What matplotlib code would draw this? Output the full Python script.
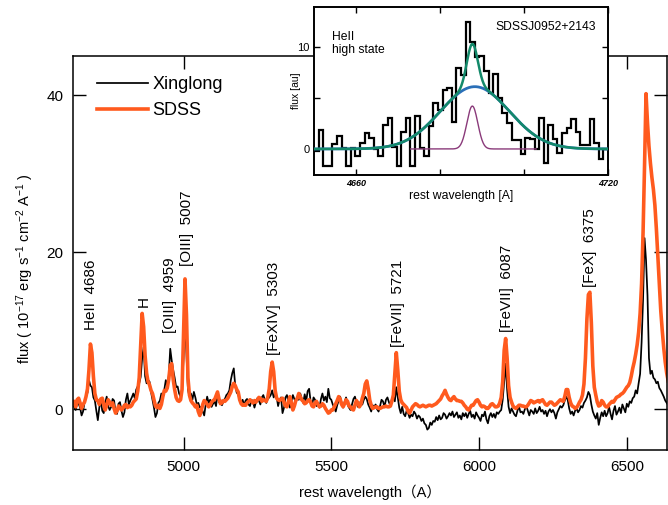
import numpy as np
import matplotlib
matplotlib.use("Agg")
import matplotlib.pyplot as plt

plt.rcParams['font.family'] = ['Liberation Sans', 'Noto Sans CJK SC', 'DejaVu Sans']
plt.rcParams['mathtext.fontset'] = 'custom'
plt.rcParams['mathtext.rm'] = 'Liberation Sans'
plt.rcParams['mathtext.default'] = 'rm'

# Main spectrum: rest wavelength grid (5 A step) and fluxes in 1e-17 erg/s/cm2/A
wavelength = np.arange(4625, 6641, 5)

xinglong_flux = [
    # 4625-4720
    1.1, 0.3, -0.1, 0.8, 0.7, 0.2, -0.8, -0.3, 0.9, 1.6, 2.1, 3.7, 3.0, 2.8, 1.5, 1.1, -0.2, -1.4, 0.2, 1.2,
    # 4725-4820
    -0.2, -0.5, 0.8, 1.6, 0.4, -0.1, 0.3, 1.3, 1.1, -0.4, -0.6, 0.7, 0.9, -0.2, -1.0, -0.4, 1.2, 2.0, 0.6, 1.1,
    # 4825-4920
    1.5, 2.0, 1.4, 2.5, 2.9, 3.3, 4.1, 6.5, 7.9, 4.2, 3.3, 3.7, 3.5, 2.2, 1.2, 0.2, -1.0, -0.5, 0.8, 1.1,
    # 4925-5020
    2.0, 1.4, 2.5, 3.7, 3.1, 4.2, 7.7, 6.2, 5.0, 4.0, 2.8, 2.9, 2.0, 1.6, 2.4, 6.5, 11.0, 7.0, 2.5, 1.6,
    # 5025-5120
    2.0, 1.2, 2.2, 1.5, 0.6, 0.8, 0.2, 0.3, -0.3, -0.8, 0.6, 1.6, 0.8, 1.2, 0.3, 0.7, 1.0, 0.4, 2.0, 0.9,
    # 5125-5220
    1.2, 0.5, 1.0, 1.3, 1.8, 2.0, 2.4, 3.7, 4.6, 5.2, 3.0, 2.1, 1.9, 1.2, 0.8, 1.2, 0.5, 1.1, 1.3, 0.6,
    # 5225-5320
    0.4, 1.2, 1.0, 0.2, 0.9, 1.4, 1.1, 0.6, 1.5, 1.8, 1.2, 0.8, 1.3, 1.5, 1.8, 2.4, 1.5, 1.9, 1.6, 0.4,
    # 5325-5420
    1.2, 1.5, -0.5, 0.2, 1.5, 1.8, 0.9, 0.2, 1.0, 1.8, 1.3, 0.9, 1.5, 1.2, 2.0, 1.3, 0.8, 1.9, 1.0, 2.3,
    # 5425-5520
    2.6, 1.0, 0.5, 1.5, 1.2, 0.4, 0.8, 0.2, 1.3, 2.0, 1.1, 1.6, 0.9, 2.6, 1.4, 1.2, 0.6, 0.2, -0.3, 0.5,
    # 5525-5620
    1.1, 1.6, 0.8, 0.2, 0.9, 1.5, 0.6, 0.2, -0.1, 0.6, 1.3, 1.6, 0.9, 0.3, 0.7, 1.0, 0.6, 1.2, 1.6, 1.3,
    # 5625-5720
    0.6, 0.2, -0.3, 0.5, 0.3, 0.6, 0.0, -0.3, 0.4, 1.2, 1.0, 0.3, 1.2, 1.5, 0.9, 0.4, 1.3, 1.6, 1.0, 2.8,
    # 5725-5820
    1.5, 0.2, -0.5, 0.3, -0.6, -0.9, -0.2, -0.5, -1.1, -0.7, -0.9, -0.3, -0.6, -1.2, -0.8, -1.0, -1.5, -1.2, -1.8, -2.0,
    # 5825-5920
    -2.6, -2.4, -1.7, -2.0, -1.5, -1.6, -1.0, -1.4, -0.8, -1.3, -1.1, -0.5, -0.7, -1.2, -0.9, -0.5, -0.8, -0.3, -1.0, -0.7,
    # 5925-6020
    -0.4, -1.1, -0.8, -1.3, -0.5, -0.9, -0.5, -1.1, -0.6, -0.2, -1.0, -0.7, -1.2, -0.4, -0.8, -1.1, -1.5, -0.7, -0.9, -0.3,
    # 6025-6120
    -1.3, -1.8, -0.9, -0.5, -1.0, -0.6, -1.1, -0.4, -0.6, -0.3, -0.1, 1.2, 3.5, 5.8, 2.5, 0.3, -0.5, 0.1, -0.3, -0.7,
    # 6125-6220
    -0.9, -0.2, 0.4, -0.4, -0.3, -0.6, 0.0, 0.4, -0.2, -0.8, -0.1, -0.3, -0.6, 0.1, -0.5, -0.2, 0.3, -0.3, -0.1, -0.6,
    # 6225-6320
    -0.2, -0.9, -0.3, 0.0, -0.4, -0.1, -0.5, -1.2, -0.4, 0.0, 0.4, 0.2, 0.5, 1.1, 1.6, 1.2, 0.1, -0.6, -0.3, -0.8,
    # 6325-6420
    -0.2, 0.1, -0.4, -0.1, 0.4, 0.2, 0.8, 1.1, 1.5, 2.2, 1.8, 0.6, -0.3, -0.8, -1.2, -0.5, -2.0, -1.1, -0.4, -0.9,
    # 6425-6520
    -0.2, -0.9, -0.5, 0.3, -0.6, -1.3, -0.2, 0.4, -0.7, -0.3, 0.2, -0.5, 0.6, 0.1, -0.4, 0.7, 0.3, 1.0, 0.8, 1.4,
    # 6525-6620
    1.6, 2.4, 2.0, 3.3, 4.5, 8.5, 14.0, 21.8, 19.0, 14.5, 6.5, 4.5, 4.9, 4.0, 3.8, 3.3, 3.5, 2.7, 2.4, 2.0,
    # 6625-6640
    1.6, 1.1, 0.8, 0.5,
]

sdss_flux = [
    # 4625-4720
    0.7, 1.0, 0.3, 1.2, 1.4, 0.8, 0.1, 0.6, 0.9, 1.6, 2.6, 5.0, 8.3, 7.2, 4.2, 2.0, 1.2, 1.1, 0.6, 1.3,
    # 4725-4820
    1.4, 0.6, -0.1, 0.5, 1.2, 0.9, 0.5, 0.8, 0.1, -0.5, -0.2, 0.4, 0.2, -0.1, 0.1, 0.5, 0.6, 0.2, 0.4, 0.3,
    # 4825-4920
    0.5, 0.9, 1.1, 1.3, 2.3, 4.0, 8.0, 12.2, 10.5, 6.8, 4.6, 3.5, 3.1, 2.4, 2.0, 1.2, 0.4, 0.2, 0.5, 0.1,
    # 4925-5020
    0.6, 1.6, 2.4, 2.3, 2.7, 3.8, 5.6, 5.8, 3.8, 2.5, 1.5, 1.1, 1.0, 1.2, 2.5, 9.5, 16.6, 12.0, 4.0, 1.8,
    # 5025-5120
    1.1, 0.8, 0.6, 0.3, 0.5, -0.3, -0.8, -0.2, 0.6, 1.1, 0.9, 0.6, 0.3, 0.5, 0.9, 1.1, 1.2, 1.7, 2.2, 1.3,
    # 5125-5220
    0.7, 0.8, 1.1, 1.0, 1.2, 1.4, 1.8, 2.2, 2.9, 3.3, 3.0, 2.5, 2.2, 1.2, 0.7, 0.5, 0.6, 0.5, 0.8, 1.0,
    # 5225-5320
    1.2, 1.0, 0.8, 1.1, 0.9, 1.2, 1.5, 1.4, 1.0, 1.2, 1.1, 1.0, 1.5, 2.6, 4.8, 6.0, 4.8, 2.4, 1.4, 1.2,
    # 5325-5420
    1.1, 1.3, 1.4, 0.9, 0.4, 0.3, 1.0, 1.6, 0.8, -0.1, 0.4, 1.1, 1.4, 2.0, 1.6, 1.2, 1.0, 0.7, 0.8, 1.1,
    # 5425-5520
    1.2, 0.9, 0.4, 0.3, 0.8, 1.0, 0.6, 0.3, 0.4, 0.7, 0.5, 0.1, -0.2, -0.5, -0.4, -0.1, -0.1, 0.3, 0.7, 1.1,
    # 5525-5620
    1.6, 1.3, 0.6, 0.3, 0.7, 1.2, 1.0, 0.4, 0.3, 0.0, -0.1, 0.5, 1.1, 0.8, 0.3, 0.6, 1.4, 2.0, 3.2, 3.6,
    # 5625-5720
    2.6, 1.2, 0.5, 0.1, 0.2, 0.3, 0.3, 0.1, 0.1, 0.2, 0.3, 0.3, 0.4, 0.3, 0.3, 0.4, 1.0, 1.8, 4.5, 7.2,
    # 5725-5820
    5.0, 2.3, 1.2, 0.8, 0.6, 0.4, 0.2, -0.3, -0.5, -0.1, 0.3, 0.5, 0.7, 0.6, 0.4, 0.3, 0.4, 0.5, 0.4, 0.3,
    # 5825-5920
    0.4, 0.5, 0.5, 0.4, 0.5, 0.6, 0.7, 0.9, 1.1, 1.3, 1.7, 2.0, 2.4, 1.9, 1.5, 1.2, 1.1, 1.4, 1.6, 1.3,
    # 5925-6020
    1.1, 1.1, 1.0, 1.0, 0.8, 0.5, 0.3, 0.0, -0.1, 0.2, 0.5, 0.5, 0.8, 1.1, 1.2, 0.9, 0.5, 0.3, 0.4, 0.3,
    # 6025-6120
    0.1, 0.1, 0.3, 0.6, 0.7, 0.5, 0.3, 0.3, 0.4, 0.8, 1.5, 3.5, 7.5, 9.0, 6.5, 3.0, 1.5, 0.9, 0.4, 0.2,
    # 6125-6220
    0.1, 0.3, 0.5, 0.5, 0.4, 0.4, 0.3, 0.3, 0.5, 0.8, 1.1, 1.0, 0.8, 0.9, 1.0, 1.1, 0.9, 1.1, 1.2, 0.9,
    # 6225-6320
    0.6, 0.5, 0.7, 0.9, 0.9, 0.7, 0.5, 0.6, 0.8, 1.0, 1.2, 1.1, 1.0, 1.6, 2.5, 2.5, 1.5, 0.8, 0.4, 0.3,
    # 6325-6420
    0.1, 0.2, 0.5, 0.9, 1.2, 1.8, 3.2, 6.5, 11.5, 14.6, 14.9, 11.0, 5.5, 2.8, 1.8, 0.9, 0.4, 0.5, 1.1, 0.9,
    # 6425-6520
    0.5, 0.3, 0.3, 0.6, 0.8, 1.0, 0.9, 1.2, 1.5, 1.6, 1.7, 1.9, 2.0, 2.2, 2.5, 2.8, 3.0, 3.4, 4.2, 5.2,
    # 6525-6620
    6.0, 7.0, 8.2, 9.8, 12.2, 16.0, 22.5, 31.0, 40.2, 36.5, 33.5, 31.3, 29.5, 28.0, 26.0, 23.0, 19.5, 15.8, 12.5, 10.0,
    # 6625-6640
    7.8, 6.0, 4.6, 3.6,
]

# Emission line labels: text, x position, bottom of text (data units)
line_labels = ['HeII  4686', 'H', '[OIII]  4959', '[OIII]  5007', '[FeXIV]  5303',
               '[FeVII]  5721', '[FeVII]  6087', '[FeX]  6375']
label_x = [4688, 4864, 4955, 5013, 5305, 5727, 6095, 6374]
label_y = [10.1, 13.0, 9.7, 18.3, 6.9, 7.9, 9.8, 15.6]

# Inset: HeII 4686 line profile, binned flux [au]
inset_edges = np.linspace(4650, 4720, 65)
inset_flux = [
    -0.2, 1.9, -1.7, -1.7, 0.5, 1.25, 0.1, -1.7, 0.1, -0.7,
    0.6, 1.6, 1.1, 0.0, -0.7, 2.3, 3.0, 0.2, -1.7, 1.7,
    3.0, -1.7, 3.2, 0.1, -0.7, 2.2, 4.5, 3.8, 5.8, 6.0,
    2.6, 7.9, 7.2, 12.4, 10.5, 9.0, 9.1, 7.6, 5.5, 7.3,
    5.0, 3.5, 2.5, 0.9, 0.9, -0.5, 1.1, 1.0, 0.0, 3.0,
    -1.4, 2.3, 1.0, -0.4, 1.6, 2.1, 2.9, 1.7, 0.4, 0.4,
    2.9, 0.6, -1.0, 0.0,
]
# Gaussian fit components: amplitude, centre, sigma
broad_fit = (6.1, 4688.3, 8.2)
narrow_fit = (4.2, 4687.7, 1.3)
narrow_range = (4673, 4703)

fig = plt.figure(figsize=(6.68, 5.05), dpi=100)
ax = fig.add_axes([73 / 668, 55 / 505, 594 / 668, 394 / 505])

ax.plot(wavelength, xinglong_flux, color='black', lw=1.25, label='Xinglong')
ax.plot(wavelength, sdss_flux, color='#ff5a1e', lw=2.6, solid_joinstyle='round', label='SDSS')

for txt, lx, ly in zip(line_labels, label_x, label_y):
    ax.text(lx, ly, txt, rotation=90, ha='center', va='bottom', fontsize=11)

ax.set_xlim(4626, 6636)
ax.set_ylim(-5.2, 45)
ax.set_xticks([5000, 5500, 6000, 6500])
ax.set_yticks([0, 20, 40])
ax.tick_params(direction='in', length=9.5, width=1, labelsize=11, top=True, right=True, pad=7)
for sp in ax.spines.values():
    sp.set_linewidth(1.1)
ax.set_xlabel('rest wavelength（A）', fontsize=10.5, labelpad=8)
ax.set_ylabel('flux ( 10$^{-17}$ erg s$^{-1}$ cm$^{-2}$ A$^{-1}$ )', fontsize=10.5)
ax.yaxis.set_label_coords(-0.063, 0.46)

ax.legend(loc='upper left', bbox_to_anchor=(0.029, 0.968), frameon=False, fontsize=13,
          handlelength=2.8, handletextpad=0.25, labelspacing=0.5, borderaxespad=0)

# Inset panel
ins = fig.add_axes([314 / 668, 330 / 505, 294 / 668, 168 / 505])
ins.set_facecolor('white')
ins.stairs(inset_flux, inset_edges, baseline=None, color='black', lw=1.6, zorder=2)

xf = np.linspace(4650, 4720, 500)
a, c, s = broad_fit
broad = a * np.exp(-0.5 * ((xf - c) / s) ** 2)
a, c, s = narrow_fit
narrow = a * np.exp(-0.5 * ((xf - c) / s) ** 2)
sel = (xf >= narrow_range[0]) & (xf <= narrow_range[1])
ins.plot(xf[sel], narrow[sel], color='#8a3a7a', lw=1.0, zorder=3)
ins.plot(xf, broad, color='#2a6fb8', lw=2.0, zorder=4)
ins.plot(xf, broad + narrow, color='#13896a', lw=1.8, zorder=5)

ins.set_xlim(4650, 4720)
ins.set_ylim(-2.55, 13.9)
ins.set_xticks([4660, 4680, 4700, 4720])
ins.set_xticklabels(['4660', '', '', '4720'], fontsize=6.5, fontweight='bold', fontstyle='italic')
ins.set_yticks([0, 5, 10])
ins.set_yticklabels(['0', '', '10'], fontsize=8)
ins.tick_params(direction='in', length=4, width=1, top=True, right=True, pad=3)
for sp in ins.spines.values():
    sp.set_linewidth(1.4)
ins.set_xlabel('rest wavelength [A]', fontsize=8.8, labelpad=1)
ins.set_ylabel('flux [au]', fontsize=7.5)
ins.yaxis.set_label_coords(-0.045, 0.5)
ins.text(0.06, 0.86, 'HeII\nhigh state', transform=ins.transAxes, fontsize=8.7,
         ha='left', va='top', linespacing=1.15)
ins.text(0.96, 0.88, 'SDSSJ0952+2143', transform=ins.transAxes, fontsize=8.7,
         ha='right', va='center')

fig.savefig('out.png', dpi=100)
